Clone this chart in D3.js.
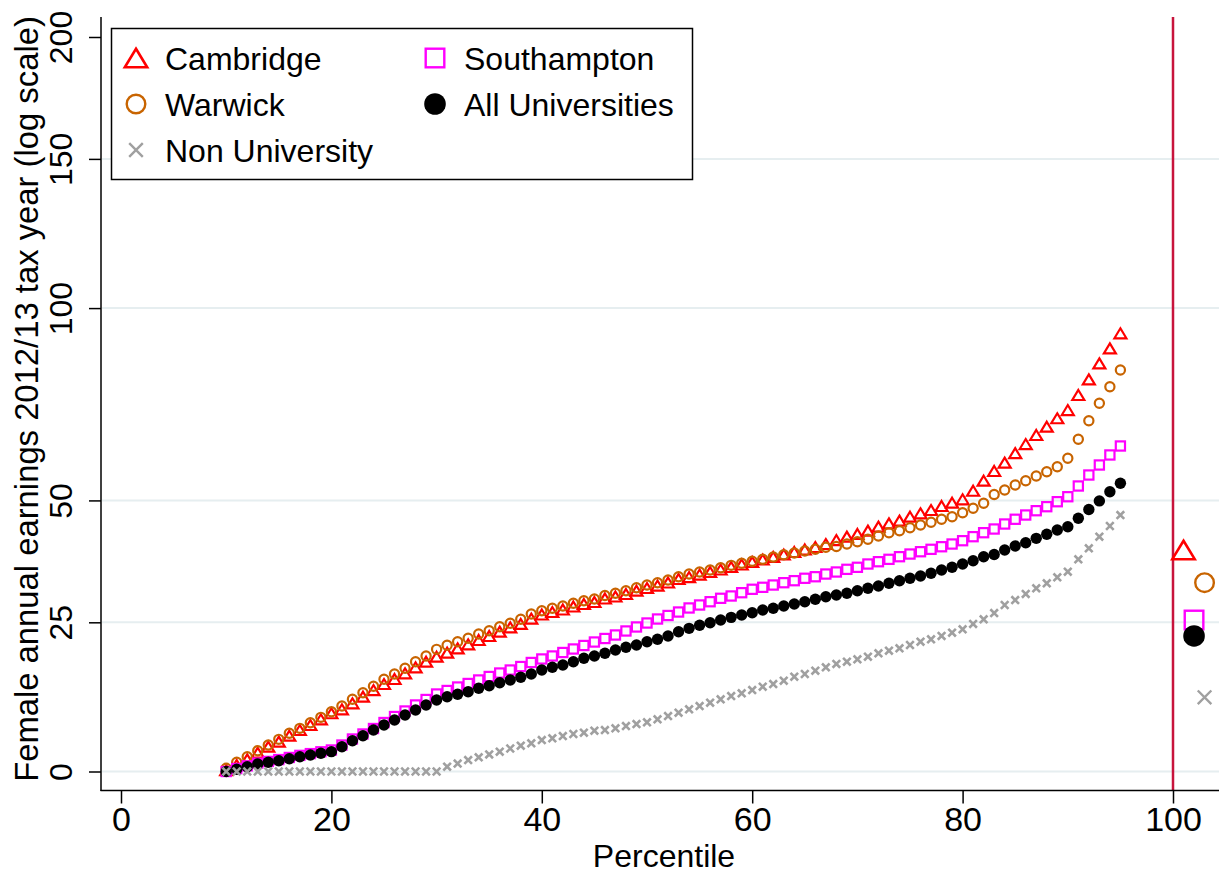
<!DOCTYPE html>
<html><head><meta charset="utf-8">
<script src="https://cdn.jsdelivr.net/npm/d3@7"></script>
<style>
body{margin:0;background:#fff}
text{font-family:"Liberation Sans",Arial,Helvetica,sans-serif;fill:#000}
</style>
</head><body>
<svg id="chart" width="1219" height="873"></svg>
<script>
// ---------------- DATA ----------------
const percentiles = [10,11,12,13,14,15,16,17,18,19,20,21,22,23,24,25,26,27,28,29,30,31,32,33,34,35,36,37,38,39,40,41,42,43,44,45,46,47,48,49,50,51,52,53,54,55,56,57,58,59,60,61,62,63,64,65,66,67,68,69,70,71,72,73,74,75,76,77,78,79,80,81,82,83,84,85,86,87,88,89,90,91,92,93,94,95];

// Female annual earnings (thousands), by percentile
const cambridge = [0.22,0.98,1.84,2.85,3.78,4.56,5.50,6.40,7.20,8.12,9.10,9.75,10.74,11.84,12.96,13.98,14.84,15.82,16.87,17.85,18.73,19.45,20.23,20.96,21.74,22.47,23.26,24.07,24.69,25.71,26.47,26.94,27.42,27.99,28.47,28.86,29.53,29.92,30.41,31.05,31.58,32.07,32.67,33.37,33.76,34.26,34.77,35.27,35.78,36.29,36.80,37.31,37.83,38.34,38.86,39.38,39.90,40.53,41.37,42.08,42.65,43.36,44.22,44.95,45.52,46.39,47.14,47.86,48.75,49.49,50.25,52.19,54.49,56.75,58.71,61.00,63.20,65.42,67.48,69.61,71.71,75.62,79.78,84.14,88.31,92.60];
const warwick = [0.48,1.39,2.24,3.16,4.04,4.93,5.88,6.67,7.57,8.44,9.36,10.29,11.40,12.51,13.59,14.79,15.70,16.69,17.85,18.86,20.05,20.78,21.43,22.05,22.83,23.44,24.18,24.82,25.56,26.56,27.19,27.65,28.09,28.61,29.11,29.43,30.11,30.54,31.05,31.64,32.17,32.63,33.17,33.82,34.36,34.77,35.17,35.64,36.12,36.53,36.94,37.35,37.83,38.30,38.65,39.07,39.42,39.84,40.01,40.53,41.01,41.52,42.22,42.93,43.36,44.00,44.59,45.17,45.83,46.39,47.27,48.24,49.35,51.33,52.35,53.50,54.49,55.58,56.58,57.76,59.76,64.36,69.00,73.45,77.81,82.30];
const southampton = [0,0.45,0.85,1.26,1.52,1.80,2.12,2.44,2.71,2.99,3.27,4.04,4.98,5.77,6.64,7.60,8.57,9.47,10.46,11.37,12.29,12.88,13.47,14.07,14.67,15.27,15.87,16.39,17.00,17.71,18.33,18.86,19.48,20.11,20.74,21.37,22.01,22.65,23.39,24.13,24.87,25.62,26.28,26.94,27.71,28.28,28.91,29.57,30.02,30.66,31.33,31.72,32.17,32.63,33.03,33.51,33.82,34.36,34.77,35.31,35.72,36.39,36.86,37.35,37.89,38.44,38.92,39.42,39.96,40.53,41.23,42.08,42.93,43.72,44.80,45.83,46.76,47.71,48.60,49.71,50.83,53.27,55.81,58.16,60.55,62.72];
const allUniversities = [0,0.33,0.72,1.13,1.39,1.63,1.93,2.24,2.50,2.76,3.01,3.78,4.71,5.50,6.40,7.20,8.01,8.82,9.64,10.46,11.29,11.84,12.24,12.68,13.25,13.69,14.20,14.67,15.13,15.70,16.39,16.87,17.27,17.85,18.45,18.86,19.34,19.93,20.42,20.83,21.43,21.87,22.47,23.26,23.88,24.44,24.92,25.43,25.93,26.37,26.80,27.32,27.65,28.09,28.47,28.91,29.38,29.88,30.21,30.54,31.05,31.52,31.98,32.51,33.03,33.51,33.96,34.51,35.17,35.72,36.39,37.06,37.89,38.34,39.28,40.11,40.80,41.73,42.59,43.51,44.22,46.04,47.99,49.89,51.96,53.91];
const nonUniversity = [0,0,0,0,0,0,0,0,0,0,0,0,0,0,0,0,0,0,0,0,0,0.72,1.20,1.73,2.15,2.58,3.01,3.50,3.93,4.31,4.82,5.09,5.45,5.77,5.97,6.29,6.40,6.67,7.04,7.36,7.63,8.12,8.65,9.20,9.75,10.29,10.84,11.40,11.95,12.41,12.96,13.52,13.98,14.55,15.24,15.70,16.27,16.87,17.45,17.85,18.27,18.73,19.34,19.80,20.23,20.83,21.43,21.87,22.47,23.08,23.70,24.69,25.56,26.75,28.28,29.24,30.41,31.52,32.51,33.70,34.83,37.35,39.63,42.08,44.37,46.76];

// Summary markers shown to the right of the 100th percentile line
const summaryNames = ["Cambridge","Warwick","Southampton","All Universities","Non University"];
const summaryX = [101,103,102,102,103];
const summaryY = [39.28,32.63,25.43,22.47,11.74];

const xTicks = [0,20,40,60,80,100];
const yTicks = [0,25,50,100,150,200];
const yOffset = 100; // axis is log(earnings + 100)

// ---------------- SETUP ----------------
const svg = d3.select("#chart");
const x = d3.scaleLinear().domain([0,100]).range([121,1173]);
const yLog = d3.scaleLog().domain([0 + yOffset, 200 + yOffset]).range([771.5,37]);
const y = v => yLog(v + yOffset);

const series = [
  {name:"Cambridge", values:cambridge, shape:"triangle", color:"#ff0000"},
  {name:"Warwick", values:warwick, shape:"circle", color:"#c86400"},
  {name:"Southampton", values:southampton, shape:"square", color:"#ff00ff"},
  {name:"All Universities", values:allUniversities, shape:"dot", color:"#000000"},
  {name:"Non University", values:nonUniversity, shape:"cross", color:"#a0a0a0"}
];
const byName = Object.fromEntries(series.map(s=>[s.name,s]));

// gridlines
const gridVals = [0,25,50,100,150];
svg.append("g").selectAll("line").data(gridVals).join("line")
  .attr("x1",102).attr("x2",1219)
  .attr("y1",d=>y(d)).attr("y2",d=>y(d))
  .attr("stroke","#e6eef0").attr("stroke-width",2);

// vertical line at 100
svg.append("line").attr("x1",x(100)).attr("x2",x(100))
  .attr("y1",17).attr("y2",790)
  .attr("stroke","#c8143c").attr("stroke-width",2.5);

// axes
const xAxis = d3.axisBottom(x).tickValues(xTicks).tickSize(13).tickPadding(3).tickSizeOuter(0);
const gx = svg.append("g").attr("transform","translate(0,790.5)").call(xAxis);
gx.select(".domain").remove();
gx.selectAll(".tick line").attr("stroke","#000").attr("stroke-width",1.5);
gx.selectAll(".tick text").attr("font-size",34).attr("font-family","Liberation Sans, Arial, sans-serif").attr("fill","#000");
svg.append("line").attr("x1",100.5).attr("x2",1219).attr("y1",790.5).attr("y2",790.5).attr("stroke","#000").attr("stroke-width",1.5);

const yAxis = d3.axisLeft(yLog).tickValues(yTicks.map(t=>t+yOffset)).tickFormat(d=>String(Math.round(d-yOffset))).tickSize(12).tickSizeOuter(0);
const gy = svg.append("g").attr("transform","translate(101,0)").call(yAxis);
gy.select(".domain").remove();
gy.selectAll(".tick line").attr("stroke","#000").attr("stroke-width",1.5);
gy.selectAll(".tick text")
  .attr("font-size",32).attr("font-family","Liberation Sans, Arial, sans-serif").attr("fill","#000")
  .attr("text-anchor","middle").attr("x",0).attr("y",-29).attr("dy",0)
  .attr("transform","rotate(-90)");
svg.append("line").attr("x1",101).attr("x2",101).attr("y1",17).attr("y2",791).attr("stroke","#000").attr("stroke-width",1.5);

// axis titles
svg.append("text").attr("x",664).attr("y",867).attr("text-anchor","middle")
  .attr("font-size",32).text("Percentile");
svg.append("text").attr("transform","translate(38,399) rotate(-90)").attr("text-anchor","middle")
  .attr("font-size",32.8).text("Female annual earnings 2012/13 tax year (log scale)");

// ---------------- MARKERS ----------------
function drawMarker(g, shape, color, cx, cy, big){
  if(shape==="triangle"){
    const w = big?11.2:6.0, h = big?9.2:5.0;
    g.append("path").attr("d",`M${cx},${cy-h} L${cx+w},${cy+h} L${cx-w},${cy+h} Z`)
      .attr("fill","none").attr("stroke",color).attr("stroke-width",big?2.6:2.2);
  } else if(shape==="circle"){
    g.append("circle").attr("cx",cx).attr("cy",cy).attr("r",big?9.3:4.6)
      .attr("fill","none").attr("stroke",color).attr("stroke-width",big?2.4:2.2);
  } else if(shape==="square"){
    const s = big?9.3:4.6;
    g.append("rect").attr("x",cx-s).attr("y",cy-s).attr("width",2*s).attr("height",2*s)
      .attr("fill","none").attr("stroke",color).attr("stroke-width",big?2.4:2.2);
  } else if(shape==="dot"){
    g.append("circle").attr("cx",cx).attr("cy",cy).attr("r",big?10.8:5.7).attr("fill",color);
  } else if(shape==="cross"){
    const s = big?6.8:3.8;
    g.append("path").attr("d",`M${cx-s},${cy-s}L${cx+s},${cy+s}M${cx-s},${cy+s}L${cx+s},${cy-s}`)
      .attr("stroke",color).attr("stroke-width",big?2.4:2.6).attr("fill","none");
  }
}

const plotG = svg.append("g");
series.forEach(s=>{
  const g = plotG.append("g");
  s.values.forEach((v,i)=> drawMarker(g, s.shape, s.color, x(percentiles[i]), y(v), false));
});
const sumG = svg.append("g");
summaryNames.forEach((n,i)=>{
  const s = byName[n];
  drawMarker(sumG, s.shape, s.color, x(summaryX[i]), y(summaryY[i]), true);
});

// ---------------- LEGEND ----------------
const lg = svg.append("g");
lg.append("rect").attr("x",111.5).attr("y",28.5).attr("width",581).attr("height",151)
  .attr("fill","#fff").attr("stroke","#000").attr("stroke-width",1.5);
const legendItems = [
  {name:"Cambridge", col:0, row:0},
  {name:"Warwick", col:0, row:1},
  {name:"Non University", col:0, row:2},
  {name:"Southampton", col:1, row:0},
  {name:"All Universities", col:1, row:1}
];
legendItems.forEach(it=>{
  const s = byName[it.name];
  const sx = it.col===0 ? 136 : 435;
  const sy = 58 + it.row*46;
  drawMarker(lg, s.shape, s.color, sx, sy, true);
  lg.append("text").attr("x", sx+29).attr("y", sy+11.5).attr("font-size",32).text(it.name);
});
</script>
</body></html>
